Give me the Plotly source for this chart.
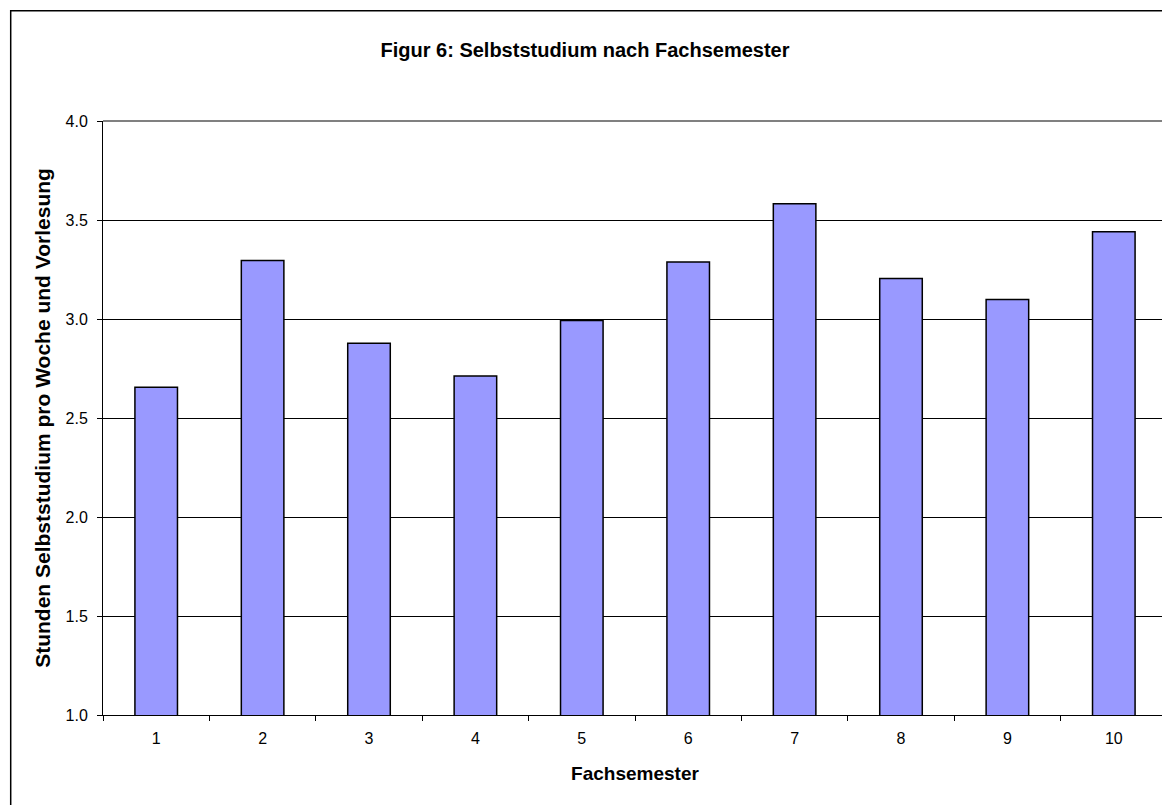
import plotly.graph_objects as go

semester = ["1", "2", "3", "4", "5", "6", "7", "8", "9", "10"]
hours = [2.655, 3.296, 2.877, 2.712, 2.993, 3.288, 3.582, 3.205, 3.099, 3.441]
y_ticks = [1.0, 1.5, 2.0, 2.5, 3.0, 3.5, 4.0]

title_text = "Figur 6: Selbststudium nach Fachsemester"
x_title = "Fachsemester"
y_title = "Stunden Selbststudium pro Woche und Vorlesung"

FONT = "Liberation Sans, Arial, sans-serif"

fig = go.Figure(
    go.Bar(
        x=semester,
        y=hours,
        width=0.4,
        marker=dict(color="#9999FF", line=dict(color="#000000", width=1.5)),
    )
)

# page has an 8px body margin, so the figure is 8px smaller than the window
W, H = 1162, 797
ml, mr, mt, mb = 95, 3, 113, 90
pw, ph = W - ml - mr, H - mt - mb

fig.update_layout(
    width=W,
    height=H,
    margin=dict(l=ml, r=mr, t=mt, b=mb),
    paper_bgcolor="white",
    plot_bgcolor="white",
    showlegend=False,
    font=dict(family=FONT, color="#000000", size=16),
    title=dict(
        text=title_text,
        x=577 / W,
        xanchor="center",
        y=1 - 42 / H,
        yanchor="middle",
        font=dict(family=FONT, size=20, color="#000000", weight="bold"),
    ),
    xaxis=dict(
        type="category",
        showgrid=False,
        showline=True,
        linecolor="#000000",
        linewidth=1,
        ticks="outside",
        ticklen=5,
        tickcolor="#000000",
        tickson="boundaries",
        tickfont=dict(size=16),
        ticklabelstandoff=9,
        title=dict(text=x_title, font=dict(size=19, weight="bold"), standoff=20),
    ),
    yaxis=dict(
        range=[1.0, 4.0],
        tickvals=y_ticks,
        tickformat=".1f",
        showgrid=True,
        gridcolor="#000000",
        gridwidth=1,
        showline=True,
        linecolor="#000000",
        linewidth=1,
        ticks="outside",
        ticklen=5,
        tickcolor="#000000",
        tickfont=dict(size=16),
        ticklabelstandoff=6,
        zeroline=False,
        title=dict(text=y_title, font=dict(size=21, weight="bold"), standoff=9),
    ),
)

# plot-area border (grey, top and right) and outer chart frame
fig.add_shape(type="line", xref="paper", yref="paper", x0=0, x1=1, y0=1, y1=1,
              line=dict(color="#808080", width=2))
fig.add_shape(type="line", xref="paper", yref="paper", x0=1, x1=1, y0=0, y1=1,
              line=dict(color="#808080", width=2))
fig.add_shape(
    type="rect", xref="paper", yref="paper",
    x0=(2.7 - ml) / pw, x1=(W + 20 - ml) / pw,
    y0=-(mb + 20) / ph, y1=1 + (mt - 2.7) / ph,
    line=dict(color="#000000", width=1.5), fillcolor="rgba(0,0,0,0)", layer="below",
)

fig.write_html("out.html")
